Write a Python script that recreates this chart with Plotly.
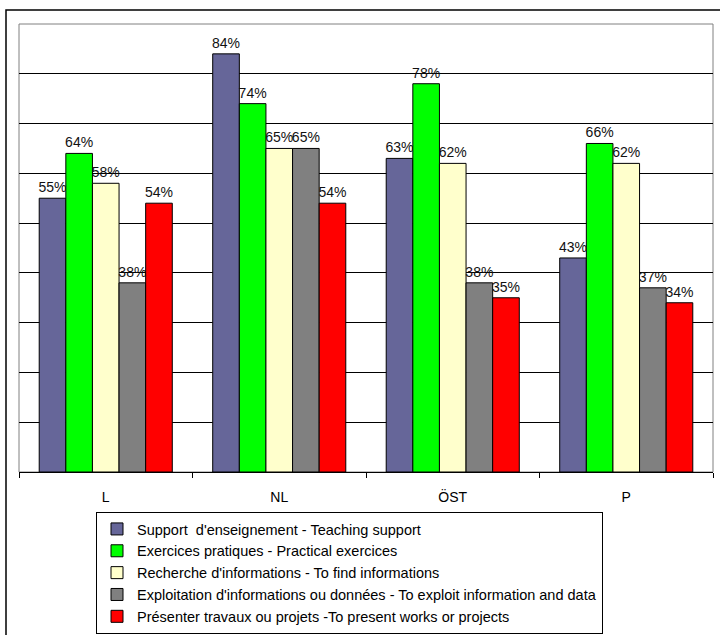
import plotly.graph_objects as go

categories = ["L", "NL", "ÖST", "P"]
series_names = [
    "Support  d'enseignement - Teaching support",
    "Exercices pratiques - Practical exercices",
    "Recherche d'informations - To find informations",
    "Exploitation d'informations ou données - To exploit information and data",
    "Présenter travaux ou projets -To present works or projects",
]
support = [55, 84, 63, 43]
exercices = [64, 74, 78, 66]
recherche = [58, 65, 62, 62]
exploitation = [38, 65, 38, 37]
presenter = [54, 54, 35, 34]
colors = ["#666699", "#00FF00", "#FFFFCC", "#808080", "#FF0000"]

series = [support, exercices, recherche, exploitation, presenter]

FONT = "Liberation Sans, Arial, sans-serif"

fig = go.Figure()
for name, vals, col in zip(series_names, series, colors):
    fig.add_trace(go.Bar(
        x=categories, y=vals, name=name,
        marker=dict(color=col, line=dict(color="black", width=1)),
        text=[f"{v}%" for v in vals], textposition="outside",
        textfont=dict(family=FONT, size=14, color="#111"),
        constraintext="none", cliponaxis=False,
    ))

L, R, T, B = 19, 7, 24, 163
ph = 635 - T - B

fig.update_layout(
    width=720, height=635,
    margin=dict(l=L, r=R, t=T, b=B, pad=0, autoexpand=False),
    paper_bgcolor="white", plot_bgcolor="white",
    barmode="group", bargap=0.233, bargroupgap=0,
    font=dict(family=FONT, size=14, color="black"),
    showlegend=True,
    legend=dict(
        xref="container", yref="container",
        x=96 / 720, xanchor="left",
        y=1 - 512 / 635, yanchor="top",
        bgcolor="white", bordercolor="black", borderwidth=1,
        font=dict(family=FONT, size=14.5, color="black"),
        tracegroupgap=0, itemwidth=30,
    ),
    xaxis=dict(
        type="category", showline=True, linecolor="black", linewidth=1,
        ticks="outside", tickson="boundaries", ticklen=5, tickcolor="black",
        ticklabelstandoff=12, showgrid=False,
        tickfont=dict(family=FONT, size=14, color="black"),
    ),
    yaxis=dict(
        range=[0, 90], dtick=10, showticklabels=False, showgrid=True,
        gridcolor="black", gridwidth=1, zeroline=False, showline=False,
    ),
    shapes=[
        dict(type="rect", xref="paper", yref="paper", x0=0, x1=1, y0=0, y1=1,
             line=dict(color="#808080", width=1), layer="below"),
        dict(type="rect", xref="paper", yref="paper",
             x0=(6 - L) / 694, x1=1.1, y0=-(700 - (T + ph)) / ph, y1=1 + (T - 10) / ph,
             line=dict(color="black", width=1.5), layer="above"),
    ],
)

fig.write_html("out.html", config={"displayModeBar": False},
               post_script="document.body.style.margin='0px';")
